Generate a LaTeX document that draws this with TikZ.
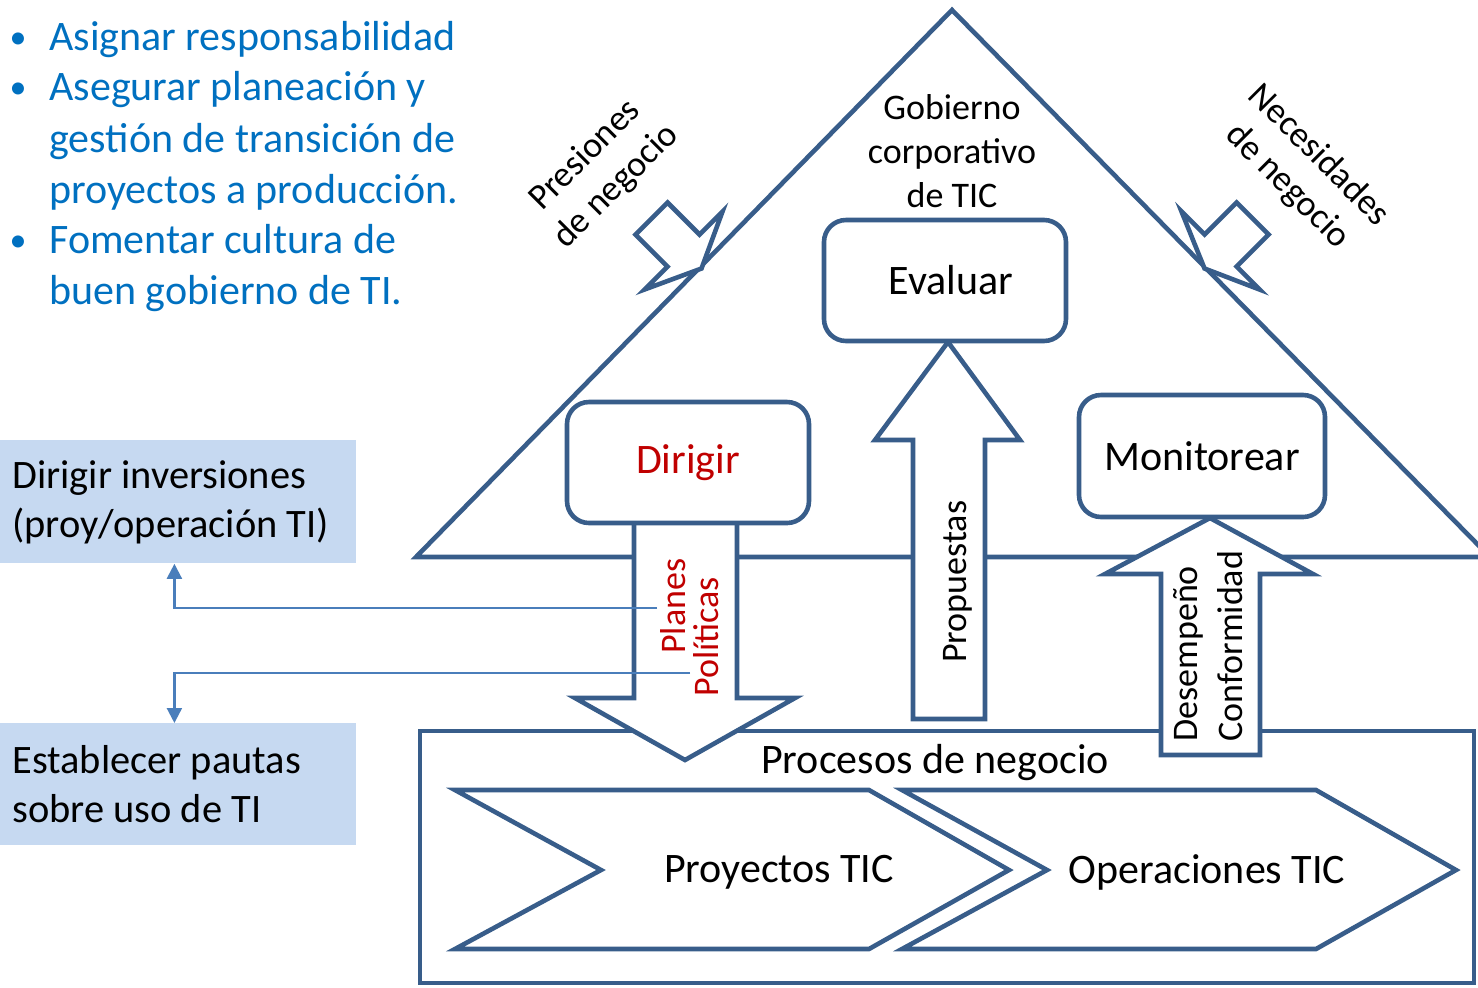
\documentclass[tikz,border=0pt]{standalone}
\usepackage{fontspec}
\setmainfont{Carlito}
\usetikzlibrary{arrows.meta}
\definecolor{dkblue}{HTML}{385D8A}
\definecolor{lnblue}{HTML}{4A7EBB}
\definecolor{txtblue}{HTML}{0070C0}
\definecolor{boxblue}{HTML}{C6D9F1}
\definecolor{dred}{HTML}{C00000}
\begin{document}
\begin{tikzpicture}[x=0.5pt,y=-0.5pt,
  outl/.style={draw=dkblue, line width=2.3pt, line join=miter},
  blk/.style={outl, fill=white},
  rbox/.style={blk, rounded corners=11pt, inner sep=0pt, font=\bigf},
  lbox/.style={fill=boxblue, draw=none, anchor=north west, inner xsep=6pt, inner ysep=0pt, text width=166pt, align=flush left, font=\fontsize{20.2}{24.5}\selectfont},
  conn/.style={draw=lnblue, line width=1.1pt, -{Triangle[width=7.5pt,length=7.5pt]}},
  bul/.style={anchor=base west, inner sep=0pt, text=txtblue, font=\bigf},
  vtxt/.style={rotate=90, anchor=base west, inner sep=0pt, font=\smallf},
]
\providecommand{\bigf}{\fontsize{21}{25}\selectfont}
\providecommand{\smallf}{\fontsize{18}{22}\selectfont}
\useasboundingbox (0,0) rectangle (1478,987);

% bullets
\foreach \y in {50,100,253} {\node[anchor=base, inner sep=0pt, text=txtblue, font=\fontsize{17}{17}\selectfont] at (18,\y-2) {•};}
\node[bul] (b1) at (49,50) {Asignar responsabilidad};
\node[bul] (b2) at (49,100) {Asegurar planeación y};
\node[bul] (b3) at (49,152) {gestión de transición de};
\node[bul] (b4) at (49,203) {proyectos a producción.};
\node[bul] (b5) at (49,253) {Fomentar cultura de};
\node[bul] (b6) at (49,304) {buen gobierno de TI.};

% triangle (house roof)
\draw[outl] (416,557) -- (952,10) -- (1490,557) -- cycle;

% side pressure arrows
\draw[blk] (635.5,234.5) -- (667.5,202.5) -- (699.5,234.5) -- (722.5,211.5) -- (701.5,268.5) -- (644.5,289.5) -- (667.5,266.5) -- cycle;
\draw[blk] (1268.5,234.5) -- (1236.5,202.5) -- (1204.5,234.5) -- (1181.5,211.5) -- (1204.5,268.5) -- (1259.5,289.5) -- (1236.5,266.5) -- cycle;

\node[rotate=45, align=center, font=\smallf, inner sep=0pt] (pres) at (601,171) {Presiones\\de negocio};
\node[rotate=-45, align=center, font=\smallf, inner sep=0pt] (nec) at (1303,171) {Necesidades\\de negocio};

\node[align=center, font=\smallf, inner sep=0pt] (gob) at (952,151) {Gobierno\\corporativo\\de TIC};

% business processes box
\draw[outl] (420,731) rectangle (1474,983);
\node[font=\bigf, inner sep=0pt] (proc) at (935,763) {Procesos de negocio};

% chevrons
\draw[blk] (455,790) -- (869,790) -- (1009,870) -- (869,949) -- (455,949) -- (601,870) -- cycle;
\draw[blk] (902,790) -- (1316,790) -- (1456,870) -- (1316,949) -- (902,949) -- (1047,870) -- cycle;
\node[font=\bigf, inner sep=0pt] (proy) at (779,872) {Proyectos TIC};
\node[font=\bigf, inner sep=0pt] (oper) at (1207,872) {Operaciones TIC};

% block arrows
\draw[blk] (634,510) -- (737,510) -- (737,698) -- (795,698) -- (685,760) -- (575,698) -- (634,698) -- cycle;
\draw[blk] (913,719) -- (985,719) -- (985,440) -- (1020,440) -- (948,342) -- (875,440) -- (913,440) -- cycle;
\draw[blk] (1161,755) -- (1260,755) -- (1260,574) -- (1313,574) -- (1210,518) -- (1105,574) -- (1161,574) -- cycle;

% rounded boxes
\node[rbox, minimum width=121pt, minimum height=60.5pt] (eval) at (945,280.5) {\hspace*{6pt}\raisebox{-2pt}{Evaluar}};
\node[rbox, minimum width=121pt, minimum height=60.5pt, text=dred] (dir) at (688,462.5) {\raisebox{2pt}{Dirigir}};
\node[rbox, minimum width=123pt, minimum height=61pt] (mon) at (1202,456) {Monitorear};

% arrow labels
\node[vtxt, text=dred] (plan) at (685,654) {Planes};
\node[vtxt, text=dred] (pol) at (718,697) {Políticas};
\node[vtxt] (prop) at (966,663) {Propuestas};
\node[vtxt] (des) at (1197,742) {Desempeño};
\node[vtxt] (conf) at (1242,742) {Conformidad};

% left boxes
\node[lbox, minimum height=61.5pt] (inv) at (0,440) {Dirigir inversiones\\(proy/operación TI)};
\node[lbox, minimum height=61pt] (paut) at (0,723) {Establecer pautas\\sobre uso de TI};

% connectors
\coordinate (c1) at (657,608);
\coordinate (c2) at (690,673);
\draw[conn] (c1) -| ([xshift=-2pt]inv.south);
\draw[conn] (c2) -| ([xshift=-2pt]paut.north);
\end{tikzpicture}
\end{document}
